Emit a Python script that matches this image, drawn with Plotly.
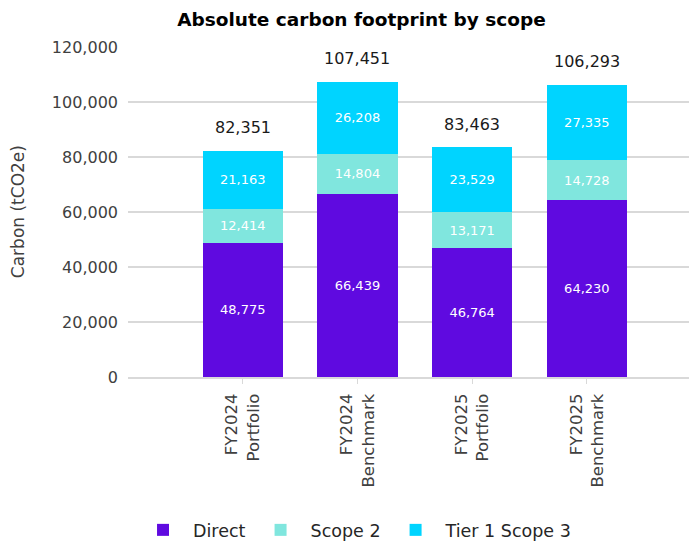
import plotly.graph_objects as go

categories = ["FY2024<br>Portfolio", "FY2024<br>Benchmark", "FY2025<br>Portfolio", "FY2025<br>Benchmark"]
direct = [48775, 66439, 46764, 64230]
scope2 = [12414, 14804, 13171, 14728]
tier1_scope3 = [21163, 26208, 23529, 27335]
totals = [82351, 107451, 83463, 106293]

FONT = "DejaVu Sans"
colors = {"Direct": "#5f0ae0", "Scope 2": "#80e6de", "Tier 1 Scope 3": "#00d4ff"}

fig = go.Figure()
for name, vals in [("Direct", direct), ("Scope 2", scope2), ("Tier 1 Scope 3", tier1_scope3)]:
    fig.add_trace(go.Bar(
        x=categories, y=vals, name=name,
        marker=dict(color=colors[name], line=dict(width=0)),
        text=[f"{v:,}" for v in vals], textposition="inside", insidetextanchor="middle",
        textfont=dict(color="white", size=13, family=FONT),
        width=0.7, hoverinfo="skip",
    ))

annotations = []
for c, t in zip(categories, totals):
    annotations.append(dict(x=c, y=t, xref="x", yref="y", text=f"{t:,}", showarrow=False,
                            yshift=23, yanchor="middle", xanchor="center",
                            font=dict(color="#1a1a1a", size=16, family=FONT)))
annotations.append(dict(x=-0.193, y=0.5, xref="paper", yref="paper", text="Carbon (tCO2e)",
                        textangle=-90, showarrow=False, xanchor="center", yanchor="middle",
                        font=dict(color="#404040", size=17, family=FONT)))

fig.update_layout(
    barmode="stack",
    width=689, height=537,
    margin=dict(l=120, r=0, t=39, b=168, autoexpand=False),
    plot_bgcolor="white", paper_bgcolor="white",
    font=dict(family=FONT, color="#404040", size=16),
    title=dict(text="<b>Absolute carbon footprint by scope</b>", x=0.513, xanchor="center",
               xref="container", yref="container",
               y=1 - 12 / 537, yanchor="middle", font=dict(size=18.5, color="black", family=FONT)),
    legend=dict(orientation="h", x=0.399, xanchor="center", y=-0.4636, yanchor="middle",
                font=dict(size=17.5, color="#262626", family=FONT), traceorder="normal",
                itemwidth=50),
    annotations=annotations,
    uniformtext=dict(mode="show", minsize=8),
)
fig.update_yaxes(range=[0, 120000], dtick=20000, tickformat=",", gridcolor="#d9d9d9", gridwidth=2,
                 zeroline=False, showline=False, ticks="", automargin=False, ticklabelstandoff=9,
                 tickfont=dict(size=16, color="#404040"))
fig.update_xaxes(range=[-1.0, 3.96], tickangle=-90, showline=True, linecolor="#d9d9d9", linewidth=2,
                 ticks="outside", tickcolor="#d9d9d9", ticklen=5, tickwidth=1, automargin=False,
                 ticklabelstandoff=3,
                 tickfont=dict(size=16.5, color="#404040"), showgrid=False)

fig.write_html("out.html")
